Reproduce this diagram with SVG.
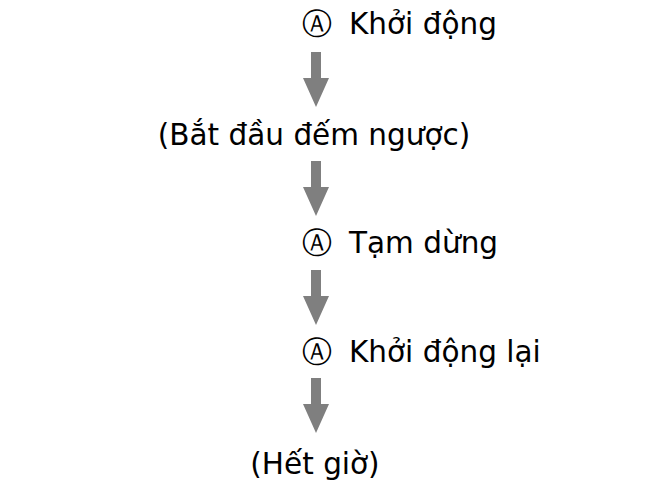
<svg xmlns="http://www.w3.org/2000/svg" width="667" height="493" viewBox="0 0 667 493">
<style>
text{font-family:"DejaVu Sans","Verdana",sans-serif;font-size:29.5px;fill:#000}
.arr{fill:#7f7f7f}
</style>
<defs>
<path id="a" d="M-5,0 H5 V26 H13 L0,55 L-13,26 H-5 Z"/>
</defs>
<rect width="667" height="493" fill="#fff"/>
<g id="n1"><text x="302" y="34">Ⓐ</text><text x="349" y="34">Khởi động</text></g>
<g id="n2"><text x="314" y="145" text-anchor="middle">(Bắt đầu đếm ngược)</text></g>
<g id="n3"><text x="302" y="253">Ⓐ</text><text x="349" y="253">Tạm dừng</text></g>
<g id="n4"><text x="302" y="362">Ⓐ</text><text x="349" y="362">Khởi động lại</text></g>
<g id="n5"><text x="315" y="474" text-anchor="middle">(Hết giờ)</text></g>
<g id="connectors" class="arr">
<use href="#a" x="316" y="52"/>
<use href="#a" x="316" y="161"/>
<use href="#a" x="316" y="270"/>
<use href="#a" x="316" y="378"/>
</g>
</svg>
